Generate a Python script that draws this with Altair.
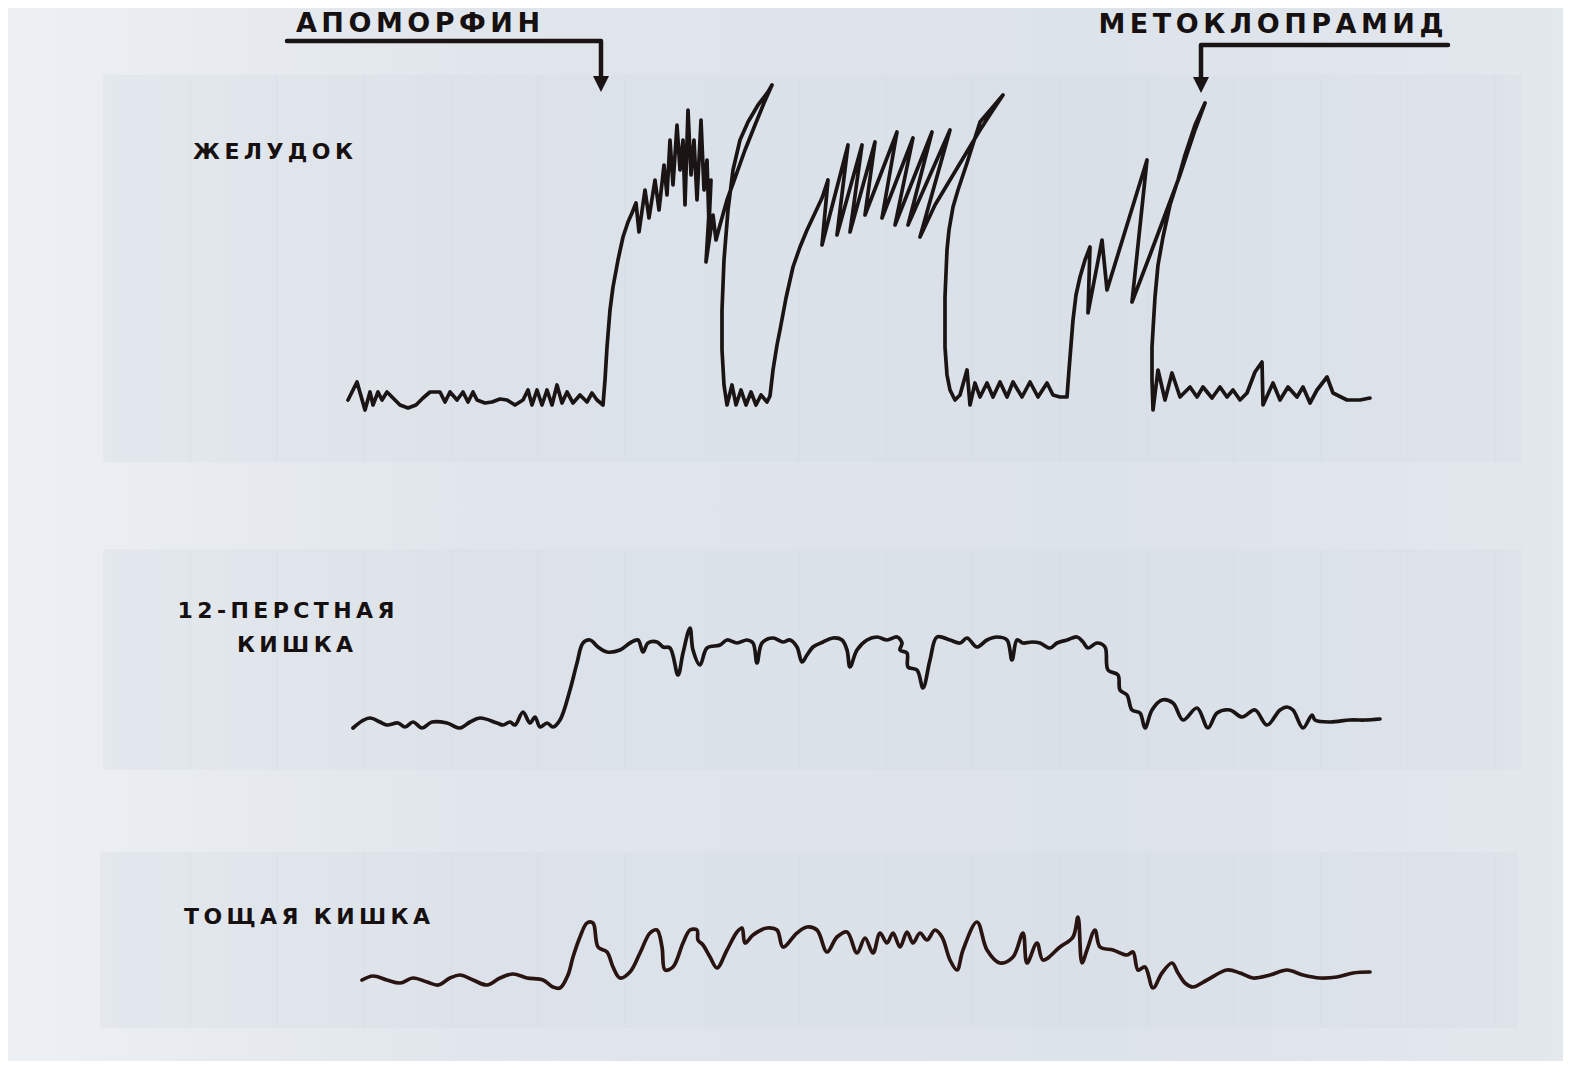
import altair as alt
import pandas as pd

# ---------------- data (pixel-like units) ----------------
STOMACH = [
    (348,400),(357,382),(365,410),(370,392),(373,405),(378,392),(382,400),(387,392),
    (393,398),(400,405),(408,408),(416,405),(423,398),(430,392),(440,392),(445,402),
    (450,392),(457,400),(463,392),(468,402),(473,392),(477,400),(485,403),(492,402),
    (500,399),(507,400),(515,405),(523,400),(528,390),(532,405),(537,390),(542,405),
    (547,390),(552,405),(557,385),(562,403),(567,392),(573,403),(580,395),(587,402),
    (592,393),(597,400),(603,405),
    (605,380),(607,347),(610,310),(613,287),(618,260),(623,237),(628,222),(632,213),
    (636,203),(639,232),(645,190),(649,218),(655,180),(659,210),(664,165),(667,195),
    (670,140),(673,185),(677,125),(680,170),(683,140),(685,205),(688,110),(691,175),
    (694,140),(697,200),(701,120),(704,190),(707,160),(709,225),(711,180),(706,262),
    (713,215),(716,240),(720,225),
    (727,200),(735,178),(745,150),(755,125),(764,103),(772,85),
    (768,92),(758,105),(748,122),(740,140),(733,170),(728,210),(724,260),(722,310),
    (722,350),(724,385),(727,405),
    (732,385),(736,405),(741,390),(746,405),(751,392),(756,405),(761,395),(767,402),(770,396),
    (773,370),(777,345),(780,330),(786,298),(793,267),(800,247),(807,230),(815,213),
    (822,198),(828,180),
    (822,245),(848,145),(837,235),(862,145),(850,232),(875,142),(865,215),(897,132),
    (882,218),(913,138),(895,225),(932,132),(908,225),(950,130),(920,237),
    (935,205),(950,180),(965,155),(980,130),(993,110),(1003,95),
    (992,108),(980,122),(967,163),(958,190),(953,207),(949,230),(947,250),(945,297),
    (945,347),(947,375),(950,390),(955,400),
    (960,395),(967,370),(970,405),(975,383),(980,397),(987,383),(993,397),(1000,382),
    (1007,397),(1013,382),(1022,397),(1030,382),(1038,397),(1047,383),(1053,395),
    (1060,397),(1067,397),
    (1069,370),(1073,320),(1076,295),(1080,277),(1085,260),(1090,247),(1088,313),
    (1102,240),(1107,290),(1147,160),(1132,302),(1150,255),(1165,215),(1180,175),
    (1195,130),(1205,103),
    (1195,125),(1185,155),(1178,180),(1170,205),(1163,237),(1158,265),(1155,297),
    (1153,330),(1152,347),(1152,380),(1153,410),
    (1158,370),(1165,400),(1172,373),(1180,397),(1190,387),(1197,397),(1203,387),
    (1212,398),(1220,387),(1227,397),(1233,390),(1240,400),(1247,393),(1255,372),
    (1262,362),(1263,405),(1273,383),(1280,400),(1288,387),(1297,397),(1303,387),
    (1310,403),(1317,390),(1327,377),(1333,393),(1347,400),(1360,400),(1370,398),
]

DUODENUM = [
    (353,728),(362,721),(370,718),(380,722),(387,725),(398,723),(405,727),(413,722),
    (422,728),(432,722),(447,723),(460,728),(470,722),(480,718),(497,723),(503,725),
    (510,722),(515,725),(523,712),(530,723),(535,717),(540,727),(547,723),(553,727),
    (560,720),(570,690),(577,663),(583,643),(590,640),(598,647),(607,652),(620,650),
    (630,643),(638,640),(643,652),(648,643),(657,642),(663,647),(670,648),(678,675),
    (683,653),(690,628),(693,650),(700,665),(707,648),(720,645),(727,640),(737,643),
    (747,640),(753,643),(757,663),(762,643),(773,638),(783,642),(790,640),(797,647),
    (802,662),(807,655),(813,647),(823,642),(833,638),(842,640),(847,650),(850,667),
    (857,650),(867,640),(877,637),(887,640),(897,637),(902,643),(900,650),(907,653),
    (908,667),(917,670),(923,688),(930,660),(937,637),(950,640),(960,643),(967,638),
    (977,647),(987,640),(997,637),(1007,640),(1012,660),(1017,640),(1023,643),
    (1032,642),(1040,643),(1050,648),(1057,643),(1067,640),(1077,637),(1083,642),
    (1088,648),(1097,643),(1105,647),(1108,670),(1118,675),(1120,690),(1127,695),
    (1132,710),(1140,713),(1145,728),(1152,710),(1162,700),(1173,703),(1183,720),
    (1197,708),(1208,728),(1217,713),(1230,710),(1242,717),(1255,710),(1267,725),
    (1280,710),(1287,707),(1293,710),(1303,728),(1312,715),(1315,720),(1330,722),
    (1350,720),(1365,720),(1380,719),
]

JEJUNUM = [
    (362,980),(373,976),(387,980),(400,983),(413,978),(427,982),(438,985),(450,978),
    (460,975),(473,980),(487,985),(500,978),(513,974),(527,978),(543,980),(553,987),
    (560,988),(568,975),(573,957),(580,937),(587,923),(593,923),(598,947),(607,952),
    (613,967),(620,978),(630,972),(640,953),(650,933),(657,930),(662,947),(665,970),
    (673,967),(683,943),(690,930),(697,930),(698,940),(703,945),(710,957),(717,968),
    (727,950),(737,932),(742,928),(745,943),(753,935),(767,928),(777,930),(783,947),
    (797,933),(807,927),(817,930),(827,952),(837,937),(847,932),(857,953),(865,938),
    (873,953),(880,933),(887,943),(893,933),(900,947),(907,932),(913,943),(920,933),
    (927,940),(935,930),(942,937),(950,960),(957,970),(963,950),(977,922),(987,950),
    (1000,963),(1013,957),(1023,933),(1027,963),(1037,943),(1043,960),(1060,947),
    (1073,937),(1078,917),(1082,963),(1087,950),(1095,930),(1100,947),(1113,950),
    (1127,955),(1133,952),(1138,970),(1145,967),(1153,988),(1162,973),(1172,963),
    (1178,973),(1185,983),(1193,987),(1207,980),(1227,970),(1240,973),(1253,978),
    (1270,975),(1287,970),(1303,975),(1320,978),(1337,977),(1353,973),(1370,972),
]

LABELS = ["Ж\u2009Е\u2009Л\u2009У\u2009Д\u2009О\u2009К",
          "1\u20092\u2009-\u2009П\u2009Е\u2009Р\u2009С\u2009Т\u2009Н\u2009А\u2009Я",
          "К\u2009И\u2009Ш\u2009К\u2009А",
          "Т\u2009О\u2009Щ\u2009А\u2009Я\u2002\u2009К\u2009И\u2009Ш\u2009К\u2009А"]
LABEL_X = [273, 286, 295, 307]
LABEL_Y = [152, 611, 645, 917]

DRUGS = ["А\u2006П\u2006О\u2006М\u2006О\u2006Р\u2006Ф\u2006И\u2006Н",
         "М\u2006Е\u2006Т\u2006О\u2006К\u2006Л\u2006О\u2006П\u2006Р\u2006А\u2006М\u2006И\u2006Д"]
DRUG_X = [418, 1271]
DRUG_Y = [24, 25]

# arrow paths (horizontal bar, then down)
ARROW1 = [(287, 41), (601, 41), (601, 78)]
ARROW2 = [(1448, 45), (1201, 45), (1201, 80)]
ARROW_TIPS_X = [601, 1201]
ARROW_TIPS_Y = [84, 85]

# panels (x1, x2, y1, y2)
PANELS = [(103, 1522, 75, 462), (103, 1522, 549, 770), (100, 1518, 852, 1028)]
GRID_X = [190, 277, 364, 451, 538, 625, 712, 799, 886, 973, 1060, 1147, 1234, 1321, 1408, 1495]

# ---------------- chart ----------------
W, H = 1555, 1053
xs = alt.Scale(domain=[8, 1563], nice=False, zero=False)
ys = alt.Scale(domain=[1061, 8], nice=False, zero=False)
X = lambda f="x": alt.X(f"{f}:Q", scale=xs, axis=None)
Y = lambda f="y": alt.Y(f"{f}:Q", scale=ys, axis=None)


def path_df(pts):
    return pd.DataFrame({"x": [p[0] for p in pts], "y": [p[1] for p in pts], "i": list(range(len(pts)))})


bg = alt.Chart(pd.DataFrame({"x": [8], "x2": [1563], "y": [8], "y2": [1061]})).mark_rect(
    fill=alt.Gradient(gradient="linear", x1=0, x2=1, y1=0, y2=0,
                      stops=[alt.GradientStop(color="#edf0f3", offset=0),
                             alt.GradientStop(color="#e1e6ec", offset=0.3),
                             alt.GradientStop(color="#dde3ea", offset=0.7),
                             alt.GradientStop(color="#e3e8ed", offset=1)])
).encode(x=X(), x2="x2:Q", y=Y(), y2="y2:Q")

panel_df = pd.DataFrame({"x": [p[0] for p in PANELS], "x2": [p[1] for p in PANELS],
                         "y": [p[2] for p in PANELS], "y2": [p[3] for p in PANELS]})
panels = alt.Chart(panel_df).mark_rect(fill="#d3dbe5", opacity=0.3).encode(
    x=X(), x2="x2:Q", y=Y(), y2="y2:Q")

grid_rows = []
for (x1, x2, y1, y2) in PANELS:
    for gx in GRID_X:
        if x1 < gx < x2:
            grid_rows.append({"x": gx, "y": y1, "y2": y2})
grid = alt.Chart(pd.DataFrame(grid_rows)).mark_rule(color="#cbd3dd", strokeWidth=1, opacity=0.35).encode(
    x=X(), y=Y(), y2="y2:Q")


def trace(pts, color, width, interp="linear"):
    return alt.Chart(path_df(pts)).mark_line(color=color, strokeWidth=width, strokeJoin="round",
                                             strokeCap="round", interpolate=interp).encode(
        x=X(), y=Y(), order="i:Q")

t1 = trace(STOMACH, "#1a1414", 3.7)
t2 = trace(DUODENUM, "#1a1414", 3.7, "catmull-rom")
t3 = trace(JEJUNUM, "#2a1412", 3.7, "catmull-rom")

a1 = trace(ARROW1, "#1a1414", 4.5)
a2 = trace(ARROW2, "#1a1414", 4.5)
tips = alt.Chart(pd.DataFrame({"x": ARROW_TIPS_X, "y": ARROW_TIPS_Y})).mark_point(
    shape="M-1,-1L1,-1L0,1Z", filled=True, size=256, color="#1a1414", opacity=1).encode(x=X(), y=Y())

labels = alt.Chart(pd.DataFrame({"t": LABELS, "x": LABEL_X, "y": LABEL_Y})).mark_text(
    font="DejaVu Sans", fontWeight="bold", fontSize=22, color="#161010", align="center", baseline="middle"
).encode(x=X(), y=Y(), text="t:N")

drugs = alt.Chart(pd.DataFrame({"t": DRUGS, "x": DRUG_X, "y": DRUG_Y})).mark_text(
    font="DejaVu Sans", fontWeight="bold", fontSize=27, color="#161010", align="center", baseline="middle"
).encode(x=X(), y=Y(), text="t:N")

chart = alt.layer(bg, panels, grid, t1, t2, t3, a1, a2, tips, labels, drugs).properties(
    width=W, height=H, autosize=alt.AutoSizeParams(type="none"), padding=0, background="#ffffff"
).configure_view(stroke=None)

chart.save("out.html", embed_options={"renderer": "svg", "actions": False})
